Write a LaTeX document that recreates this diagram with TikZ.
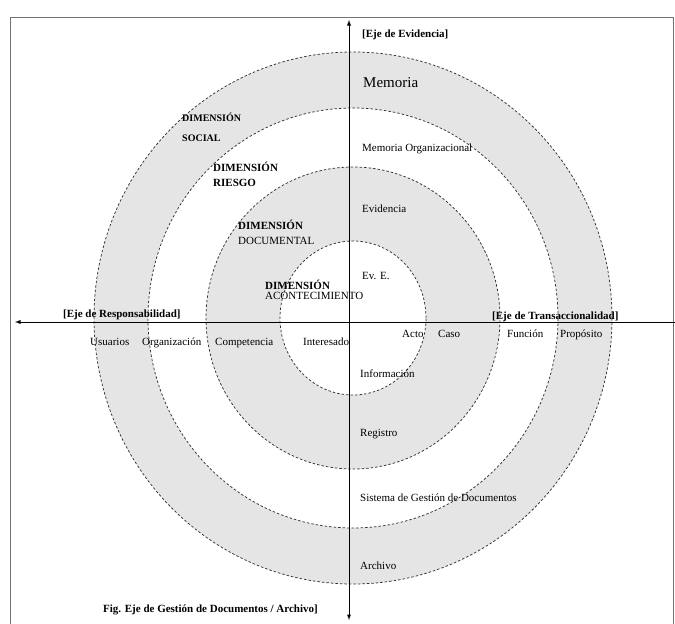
\documentclass[tikz,border=0pt]{standalone}
\usepackage{fontspec}
\setmainfont{Liberation Serif}
\usetikzlibrary{arrows}
\definecolor{ringgray}{gray}{0.9}

\begin{document}
\begin{tikzpicture}[x=1pt,y=-1pt]
\tikzstyle{ring}=[fill=ringgray]
\tikzstyle{blank}=[fill=white]
\tikzstyle{border}=[draw=black!80, line width=0.75pt, dash pattern=on 2.5pt off 2pt]
\tikzstyle{axis}=[-latex, line width=0.9pt]
\tikzstyle{lbl}=[anchor=base west, inner sep=0pt, font=\fontsize{11}{13}\selectfont]
\tikzstyle{eje}=[lbl, font=\fontsize{11}{13}\selectfont\bfseries]
\tikzstyle{dim}=[lbl, font=\fontsize{11}{13}\selectfont\bfseries]
\tikzstyle{dimb}=[lbl]

  \useasboundingbox (0,0) rectangle (675,624);
  \draw[black!55, line width=0.6pt] (10,624) -- (10,17) -- (673,17) -- (673,624);

  % rings
  \coordinate (O) at (353,318);
  \fill[ring]  (O) ellipse [x radius=259pt, y radius=266pt];
  \fill[blank] (O) ellipse [x radius=205pt, y radius=210pt];
  \fill[ring]  (O) ellipse [x radius=147pt, y radius=151pt];
  \fill[blank] (O) ellipse [x radius=73pt,  y radius=77pt];
  \foreach \rx/\ry in {259/266, 205/210, 147/151, 73/77}
    \draw[border] (O) ellipse [x radius=\rx pt, y radius=\ry pt];

  % axes
  \coordinate (top)   at (349,20);
  \coordinate (bot)   at (349,620);
  \coordinate (left)  at (15,322);
  \coordinate (right) at (675,322);
  \coordinate (vmid)  at (349,322);
  \draw[axis] (vmid) -- (top);
  \draw[axis] (vmid) -- (bot);
  \draw[axis] (right) -- (left);

  % eje de evidencia
  \node[eje] (ejeEv) at (362,37) {[Eje de Evidencia]};
  \node[lbl, font=\fontsize{15}{17}\selectfont] (ev4) at (363,87) {Memoria};
  \node[lbl] (ev3) at (362,151) {Memoria Organizacional};
  \node[lbl] (ev2) at (362,212) {Evidencia};
  \node[lbl] (ev1) at (362,279) {Ev. E.};

  % dimensiones
  \node[dim, font=\fontsize{10}{12}\selectfont\bfseries] (dsoc1) at (182,121) {DIMENSIÓN};
  \node[dim, font=\fontsize{10}{12}\selectfont\bfseries] (dsoc2) at (182,141) {SOCIAL};
  \node[dim]  (dries1) at (213,171) {DIMENSIÓN};
  \node[dim]  (dries2) at (213,186) {RIESGO};
  \node[dim]  (ddoc1)  at (238,229) {DIMENSIÓN};
  \node[dimb] (ddoc2)  at (238,244) {DOCUMENTAL};
  \node[dim]  (dacon1) at (265,289) {DIMENSIÓN};
  \node[dimb] (dacon2) at (265,299) {ACONTECIMIENTO};

  % eje de responsabilidad
  \node[eje] (ejeRes) at (63,317) {[Eje de Responsabilidad]};
  \node[lbl] (res4) at (90,345)  {Usuarios};
  \node[lbl] (res3) at (142,345) {Organización};
  \node[lbl] (res2) at (215,345) {Competencia};
  \node[lbl] (res1) at (303,345) {Interesado};

  % eje de transaccionalidad
  \node[eje] (ejeTr) at (492,319) {[Eje de Transaccionalidad]};
  \node[lbl] (tr1) at (402,337) {Acto};
  \node[lbl] (tr2) at (438,337) {Caso};
  \node[lbl] (tr3) at (507,337) {Función};
  \node[lbl] (tr4) at (560,337) {Propósito};

  % eje de gestion de documentos
  \node[lbl] (ges1) at (360,377) {Información};
  \node[lbl] (ges2) at (360,436) {Registro};
  \node[lbl] (ges3) at (360,501) {Sistema de Gestión de Documentos};
  \node[lbl] (ges4) at (360,569) {Archivo};
  \node[eje] (ejeGes) at (103,612) {Fig. Eje de Gestión de Documentos / Archivo]};

\end{tikzpicture}
\end{document}
